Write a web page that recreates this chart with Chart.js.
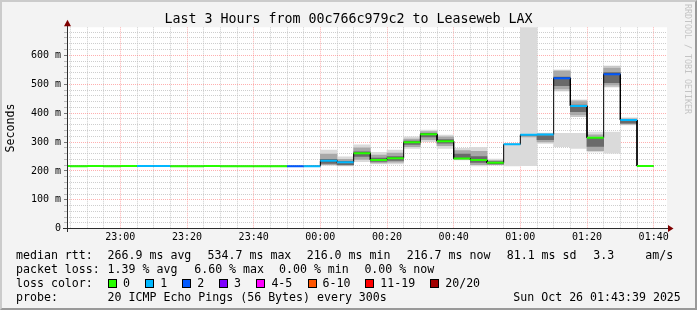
<!DOCTYPE html>
<html><head><meta charset="utf-8">
<script src="https://cdn.jsdelivr.net/npm/chart.js@4"></script>
<style>
html,body{margin:0;padding:0;background:#f3f3f3}
#wrap{position:relative;width:697px;height:310px;background:#f3f3f3;overflow:hidden;font-family:'DejaVu Sans Mono',monospace;color:#000}
#frame{position:absolute;left:0;top:0;width:697px;height:310px;box-sizing:border-box;border-style:solid;border-width:2px;border-color:#cbcbcb #999 #999 #cbcbcb;pointer-events:none}
canvas{position:absolute;left:0;top:0}
.t{position:absolute;white-space:pre;font-size:11.6px;line-height:14px}
#title{position:absolute;left:0;width:697px;top:11px;text-align:center;font-size:13.3px;line-height:16px;white-space:pre}
#wm{position:absolute;left:683px;top:4px;writing-mode:vertical-rl;font-size:8.3px;color:#c4c4c4;line-height:10px;white-space:pre}
.box{position:absolute;width:7px;height:7px;border:1px solid #000}
</style></head>
<body>
<div id="wrap">
  <canvas id="c" width="697" height="250"></canvas>
  <div id="title">Last 3 Hours from 00c766c979c2 to Leaseweb LAX</div>
  <div id="wm">RRDTOOL / TOBI OETIKER</div>
  <div id="legend"></div>
  <div id="frame"></div>
</div>
<script>
// ---- data ----
const slots = ['22:40','22:45','22:50','22:55','23:00','23:05','23:10','23:15','23:20','23:25','23:30','23:35',
               '23:40','23:45','23:50','23:55','00:00','00:05','00:10','00:15','00:20','00:25','00:30','00:35',
               '00:40','00:45','00:50','00:55','01:00','01:05','01:10','01:15','01:20','01:25','01:30','01:35'];
const medianMs = [216.6,216.5,216.7,216.4,216.6,216.8,216.7,216.5,216.4,216.6,216.5,216.3,
                  216.2,216.4,216.0,216.5,235,230,261,238,244,299,327,303,
                  243,238,228,292,325,326,521,425,315,534.7,376,216.7];
const lossCount = [0,0,0,0,0,1,1,0,0,0,0,0,
                   0,0,2,1,1,1,0,0,0,0,0,0,
                   0,0,0,1,1,1,2,1,0,2,1,0];
const N = null;
const lightLo  = [N,N,N,N,N,N,N,N,N,N,N,N,N,N,N,N, 219,217,232,224,224,278,301,278,238,217,220,217,218,295,284,278,266,261,359,N];
const lightHi  = [N,N,N,N,N,N,N,N,N,N,N,N,N,N,N,N, 272,249,290,264,272,318,341,324,278,282,241,292,697,331,330,330,334,334,384,N];
const light2Lo = [N,N,N,N,N,N,N,N,N,N,N,N,N,N,N,N, N,N,N,N,N,N,N,N,N,N,N,N,N,N,477,388,N,491,N,N];
const light2Hi = [N,N,N,N,N,N,N,N,N,N,N,N,N,N,N,N, N,N,N,N,N,N,N,N,N,N,N,N,N,N,549,445,N,563,N,N];
const midLo    = [N,N,N,N,N,N,N,N,N,N,N,N,N,N,N,N, 222,219,240,228,230,284,308,287,240,222,222,N,318,300,485,395,270,498,362,N];
const midHi    = [N,N,N,N,N,N,N,N,N,N,N,N,N,N,N,N, 258,240,280,255,262,310,336,318,270,268,236,N,327,328,545,440,325,555,380,N];
const darkLo   = [N,N,N,N,N,N,N,N,N,N,N,N,N,N,N,N, 226,222,250,233,236,292,318,296,243,229,224,N,N,308,495,405,285,505,365,N];
const darkHi   = [N,N,N,N,N,N,N,N,N,N,N,N,N,N,N,N, 240,232,266,244,250,303,330,308,258,250,232,N,N,322,525,428,315,540,376,N];

const yTickLabels = ['0','100 m','200 m','300 m','400 m','500 m','600 m'];
const xTickLabels = ['23:00','23:20','23:40','00:00','00:20','00:40','01:00','01:20','01:40'];
const lossLegend = ['0','1','2','3','4-5','6-10','11-19','20/20'];
const lossColors = ['#26ff00','#00b8ff','#0059ff','#7e00ff','#ff00ff','#ff5500','#ff0000','#a10000'];

// ---- legend text (HTML) ----
const legend = document.getElementById('legend');
function txt(x, y, s){ const d=document.createElement('div'); d.className='t'; d.style.left=x+'px'; d.style.top=y+'px'; d.textContent=s; legend.appendChild(d); }
txt(16,248,'median rtt:'); txt(107.6,248,'266.9 ms avg'); txt(207.6,248,'534.7 ms max'); txt(306.7,248,'216.0 ms min');
txt(406.7,248,'216.7 ms now'); txt(506.7,248,'81.1 ms sd'); txt(593.3,248,'3.3'); txt(645.3,248,'am/s');
txt(16,262,'packet loss:'); txt(107.6,262,'1.39 % avg'); txt(194.2,262,'6.60 % max'); txt(279,262,'0.00 % min'); txt(364.4,262,'0.00 % now');
txt(16,276,'loss color:');
const boxX = [108,145.3,182.2,219.1,256.4,307.6,365.3,430.2];
lossLegend.forEach((l,i)=>{
  const b=document.createElement('div'); b.className='box'; b.style.left=boxX[i]+'px'; b.style.top='278.5px'; b.style.background=lossColors[i]; legend.appendChild(b);
  txt(boxX[i]+15,276,l);
});
txt(16,290,'probe:'); txt(107.6,290,'20 ICMP Echo Pings (56 Bytes) every 300s'); txt(513.3,290,'Sun Oct 26 01:43:39 2025');

// ---- chart ----
const STEP = 5;
function toMin(s){ const [h,m]=s.split(':').map(Number); return (h>=12?h-24:h)*60+m; }
const starts = slots.map(toMin);
function colorFor(n){
  if(n<=0) return lossColors[0]; if(n===1) return lossColors[1]; if(n===2) return lossColors[2];
  if(n===3) return lossColors[3]; if(n<=5) return lossColors[4]; if(n<=10) return lossColors[5];
  if(n<=19) return lossColors[6]; return lossColors[7];
}
function band(lo,hi){ const d=[]; starts.forEach((s,i)=>{ if(lo[i]!=null && hi[i]!=null) d.push({x:s+STEP/2, y:[lo[i],hi[i]]}); }); return d; }
const stepPts=[]; starts.forEach((s,i)=>{ stepPts.push({x:s,y:medianMs[i]},{x:s+STEP,y:medianMs[i]}); });

const FONT='DejaVu Sans Mono';
const RED='rgba(255,110,110,0.55)', GREY='rgba(190,190,190,0.75)';
const barBase = {type:'bar', grouped:false, barPercentage:1, categoryPercentage:1, borderWidth:0, borderSkipped:false};

const framePlugin = {
  id:'framePlugin',
  beforeDraw(chart){
    const {ctx, chartArea:a} = chart;
    ctx.save(); ctx.fillStyle='#ffffff'; ctx.fillRect(a.left, a.top, a.right-a.left, a.bottom-a.top); ctx.restore();
  },
  afterDraw(chart){
    const {ctx, chartArea:a} = chart;
    const yb = Math.round(a.bottom-0.5);
    ctx.save();
    ctx.fillStyle='#2c2c2c';
    ctx.fillRect(a.left, a.top-4, 1, yb-(a.top-4)+4);
    ctx.fillRect(a.left-4, yb, a.right-a.left+4+2, 1);
    ctx.fillStyle='#7f0000';
    ctx.beginPath(); ctx.moveTo(a.left+0.5, a.top-7.5); ctx.lineTo(a.left-3, a.top-1); ctx.lineTo(a.left+4, a.top-1); ctx.closePath(); ctx.fill();
    ctx.beginPath(); ctx.moveTo(a.right+6.5, yb+0.5); ctx.lineTo(a.right+1, yb-3); ctx.lineTo(a.right+1, yb+4); ctx.closePath(); ctx.fill();
    ctx.restore();
  }
};

new Chart(document.getElementById('c'), {
  type:'bar',
  data:{ datasets:[
    Object.assign({}, barBase, {data:band(lightLo,lightHi), backgroundColor:'#dadada', order:6}),
    Object.assign({}, barBase, {data:band(light2Lo,light2Hi), backgroundColor:'#c8c8c8', order:6}),
    Object.assign({}, barBase, {data:band(midLo,midHi), backgroundColor:'#a8a8a8', order:5}),
    Object.assign({}, barBase, {data:band(darkLo,darkHi), backgroundColor:'#6a6a6a', order:4}),
    {type:'line', data:stepPts, borderColor:'#000', borderWidth:1, pointRadius:0, fill:false, tension:0, order:2},
    {type:'line', data:stepPts, borderWidth:2, pointRadius:0, fill:false, tension:0, borderCapStyle:'butt', order:1,
     borderColor:'#26ff00',
     segment:{ borderColor: c => c.p0.parsed.x===c.p1.parsed.x ? 'rgba(0,0,0,0)' : colorFor(lossCount[Math.floor(c.p0DataIndex/2)]) } }
  ]},
  options:{
    responsive:false, animation:false, devicePixelRatio:1,
    layout:{ padding:{top:27.3, right:30, bottom:0, left:0} },
    plugins:{ legend:{display:false}, tooltip:{enabled:false}, title:{display:false} },
    scales:{
      x:{ type:'linear', min:-76, max:104, z:1, offset:false,
        afterBuildTicks: s => { s.ticks=[]; for(let v=-75; v<=100; v+=STEP) s.ticks.push({value:v}); },
        afterFit: s => { s.height = 21.3; },
        grid:{ offset:false, color: c => (c.tick && c.tick.value%20===0) ? RED : GREY, lineWidth:1, drawTicks:false },
        border:{ display:false, dash:[1,1] },
        ticks:{ autoSkip:false, maxRotation:0, padding:3, color:'#000', font:{family:FONT, size:10},
                callback: v => v%20===0 ? xTickLabels[(v+60)/20] : '' }
      },
      y:{ min:0, max:697, z:1,
        afterBuildTicks: s => { s.ticks=[]; for(let v=0; v<=680; v+=20) s.ticks.push({value:v}); },
        afterFit: s => { s.width = 67; },
        grid:{ color: c => (c.tick && c.tick.value%100===0) ? RED : GREY, lineWidth:1, drawTicks:true, tickLength:3,
               tickColor: c => (c.tick && c.tick.value%100===0) ? '#777' : '#bbb' },
        border:{ display:false, dash:[1,1] },
        ticks:{ autoSkip:false, padding:3, color:'#000', font:{family:FONT, size:10},
                callback: v => v%100===0 ? yTickLabels[v/100] : '' },
        title:{ display:true, text:'Seconds', color:'#000', font:{family:FONT, size:11.6}, padding:{top:4, bottom:0} }
      }
    }
  },
  plugins:[framePlugin]
});
</script>
</body></html>
